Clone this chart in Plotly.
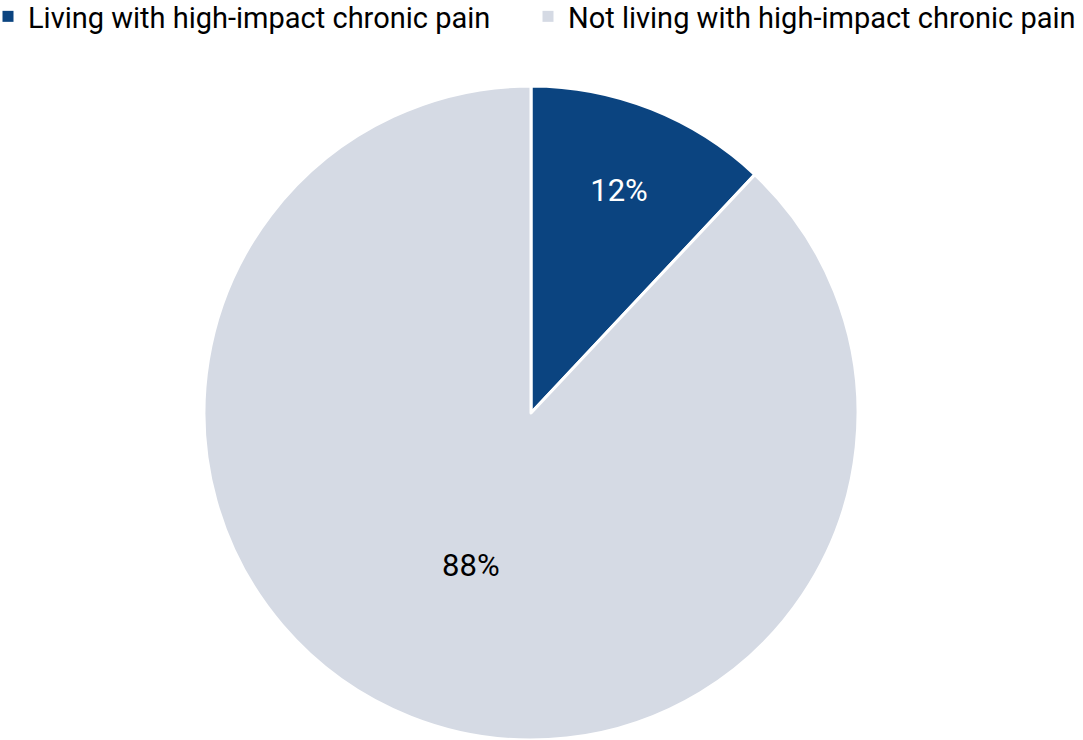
import plotly.graph_objects as go

labels = ["Living with high-impact chronic pain", "Not living with high-impact chronic pain"]
values = [12, 88]
colors = ["#0B4480", "#D5DAE4"]
text_colors = ["#FFFFFF", "#000000"]

W, H = 1083, 740

fig = go.Figure()
fig.add_trace(go.Pie(
    labels=labels,
    values=values,
    sort=False,
    direction="clockwise",
    rotation=0,
    domain=dict(x=[0, 1062 / W], y=[0, 1]),
    marker=dict(colors=colors, line=dict(color="#FFFFFF", width=3)),
    textinfo="percent",
    texttemplate="%{percent:.0%}",
    textposition="inside",
    insidetextorientation="horizontal",
    insidetextfont=dict(color=text_colors, size=31, family="Roboto"),
    hoverinfo="label+percent",
    showlegend=False,
))

# legend entries with square swatches, one legend per entry
legend_names = ["legend", "legend2"]
for lab, col, lg in zip(labels, colors, legend_names):
    fig.add_trace(go.Scatter(
        x=[None], y=[None], mode="markers", name=lab, legend=lg,
        marker=dict(symbol="square", size=11, color=col, line=dict(width=0)),
        hoverinfo="skip",
    ))

legend_style = dict(
    orientation="h",
    xanchor="left",
    y=1 + 95 / 654, yanchor="top",
    font=dict(size=29, family="Roboto", color="#000000"),
    bgcolor="rgba(0,0,0,0)",
    borderwidth=0,
)

fig.update_layout(
    width=W,
    height=H,
    margin=dict(l=0, r=0, t=86, b=0, autoexpand=False),
    paper_bgcolor="#FFFFFF",
    plot_bgcolor="#FFFFFF",
    font=dict(family="Roboto", size=29, color="#000000"),
    xaxis=dict(visible=False),
    yaxis=dict(visible=False),
    showlegend=True,
    legend=dict(x=-12 / W, **legend_style),
    legend2=dict(x=528 / W, **legend_style),
)

fig.write_html("out.html")
